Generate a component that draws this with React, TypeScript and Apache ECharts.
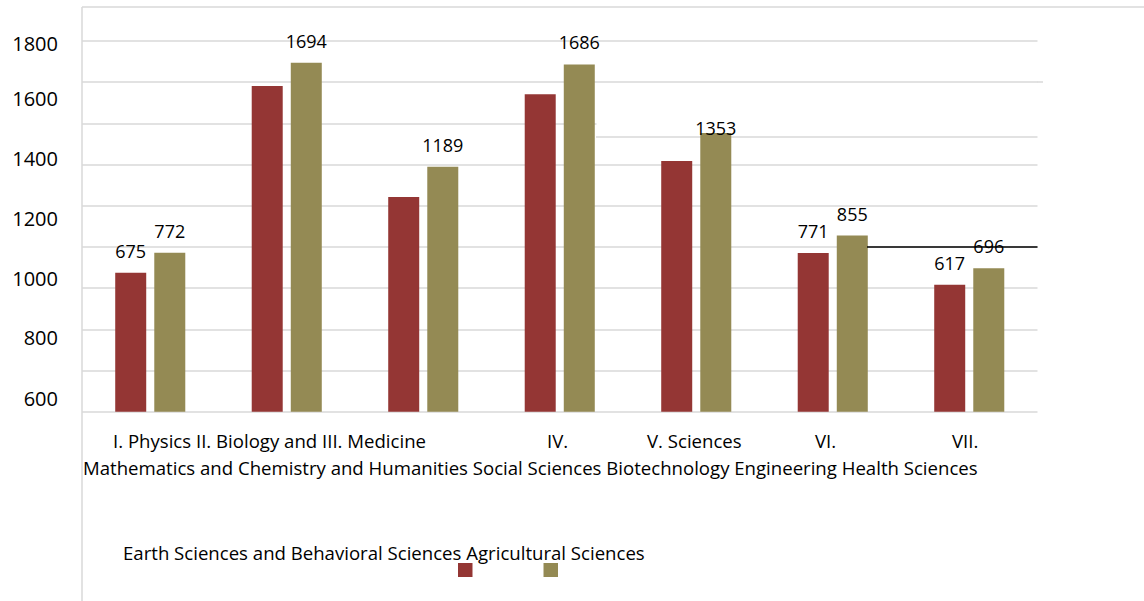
import React, { useEffect, useRef } from "react";
import * as echarts from "echarts";

const categories = [
  "I. Physics, Mathematics and Earth Sciences",
  "II. Biology and Chemistry",
  "III. Medicine and Health Sciences",
  "IV. Humanities and Social Sciences",
  "V. Sciences and Biotechnology",
  "VI. Engineering",
  "VII. Agricultural Sciences",
];
const redValues = [675, 1581, 1042, 1542, 1217, 771, 617];
const oliveValues = [772, 1694, 1189, 1686, 1353, 855, 696];
const redLabelled = [true, false, false, false, false, true, true];
const oliveLabelled = [true, true, true, true, true, true, true];
const yTickLabels = ["1800", "1600", "1400", "1200", "1000", "800", "600"];
const xLine1 = ["I. Physics II. Biology and III. Medicine", "IV.", "V. Sciences", "VI.", "VII."];
const xLine2 = ["Mathematics and Chemistry and Humanities Social Sciences Biotechnology Engineering Health Sciences"];
const xLine3 = ["Earth Sciences and Behavioral Sciences Agricultural Sciences"];

// layout (positions of the broken text layout)
const yLabelPos = [43, 98, 158, 218, 278, 337, 398];
const xLine1Pos = [113, 547, 647, 815, 952];

const FONT = "'Open Sans', Lato, sans-serif";
const RED = "#943634";
const OLIVE = "#948A54";
const GRID = "#d9d9d9";
const XFS = 18.6;

export default function App() {
  const ref = useRef<HTMLDivElement>(null);
  useEffect(() => {
    const chart = echarts.init(ref.current!, null, { renderer: "svg" });
    const labelBase = {
      position: "top" as const,
      distance: 13,
      color: "#000",
      fontFamily: FONT,
      fontSize: 18,
    };
    const redData = redValues.map((v, i) => ({
      value: v,
      label: { show: redLabelled[i] },
    }));
    const oliveData = oliveValues.map((v, i) => ({
      value: v,
      label: i === 4 ? { show: oliveLabelled[i], distance: -4 } : { show: oliveLabelled[i] },
    }));
    const textStyle = (size: number) => ({ fontFamily: FONT, fontSize: size, fill: "#000" });
    const graphics: any[] = [];
    yTickLabels.forEach((t, i) =>
      graphics.push({
        type: "text",
        x: 58,
        y: yLabelPos[i],
        style: { text: t, ...textStyle(20), align: "right", verticalAlign: "middle" },
      })
    );
    xLine1.forEach((t, i) =>
      graphics.push({
        type: "text",
        x: xLine1Pos[i],
        y: 440,
        style: { text: t, ...textStyle(XFS), align: "left", verticalAlign: "middle" },
      })
    );
    xLine2.forEach((t) =>
      graphics.push({
        type: "text",
        x: 83,
        y: 467,
        style: { text: t, ...textStyle(XFS), align: "left", verticalAlign: "middle" },
      })
    );
    xLine3.forEach((t) =>
      graphics.push({
        type: "text",
        x: 123,
        y: 552.5,
        style: { text: t, ...textStyle(XFS), align: "left", verticalAlign: "middle" },
      })
    );
    // frame lines
    graphics.push({ type: "line", shape: { x1: 82, y1: 7, x2: 1144, y2: 7 }, style: { stroke: GRID, lineWidth: 1.5 } });
    graphics.push({ type: "line", shape: { x1: 82, y1: 7, x2: 82, y2: 601 }, style: { stroke: GRID, lineWidth: 1.5 } });
    // broken gridline fragments
    graphics.push({ type: "line", z: 1, shape: { x1: 596.5, y1: 123.5, x2: 1040, y2: 123.5 }, style: { stroke: "#fff", lineWidth: 3 } });
    graphics.push({ type: "line", z: 1, shape: { x1: 596, y1: 137, x2: 1037.5, y2: 137 }, style: { stroke: GRID, lineWidth: 1.5 } });
    graphics.push({ type: "line", z: 1, shape: { x1: 1037, y1: 82, x2: 1043, y2: 82 }, style: { stroke: GRID, lineWidth: 1.5 } });
    graphics.push({ type: "line", z: 5, shape: { x1: 867, y1: 247, x2: 1037.5, y2: 247 }, style: { stroke: "#000", lineWidth: 1.5 } });

    chart.setOption({
      animation: false,
      backgroundColor: "#fff",
      grid: { left: 82, right: 106.5, top: 41, bottom: 189.3, containLabel: false },
      legend: {
        left: 458,
        top: 563,
        padding: 0,
        icon: "rect",
        itemWidth: 14.5,
        itemHeight: 14,
        itemGap: 71,
        selectedMode: false,
        formatter: () => "",
        textStyle: { fontSize: 1 },
        data: ["Series 1", "Series 2"],
      },
      xAxis: {
        type: "category",
        data: categories,
        axisLine: { show: false },
        axisTick: { show: false },
        axisLabel: { show: false },
      },
      yAxis: {
        type: "value",
        min: 0,
        max: 1800,
        interval: 200,
        axisLabel: { show: false },
        axisLine: { show: false },
        axisTick: { show: false },
        splitLine: { lineStyle: { color: GRID, width: 1.5 } },
      },
      series: [
        {
          name: "Series 1",
          type: "bar",
          data: redData,
          barWidth: 31,
          barGap: "26%",
          itemStyle: { color: RED },
          label: labelBase,
        },
        {
          name: "Series 2",
          type: "bar",
          data: oliveData,
          barWidth: 31,
          barGap: "26%",
          itemStyle: { color: OLIVE },
          label: labelBase,
        },
      ],
      graphic: graphics,
    });
    return () => chart.dispose();
  }, []);
  return (
    <div
      ref={ref}
      style={{ position: "fixed", left: 0, top: 0, width: 1144, height: 601, background: "#fff" }}
    />
  );
}
